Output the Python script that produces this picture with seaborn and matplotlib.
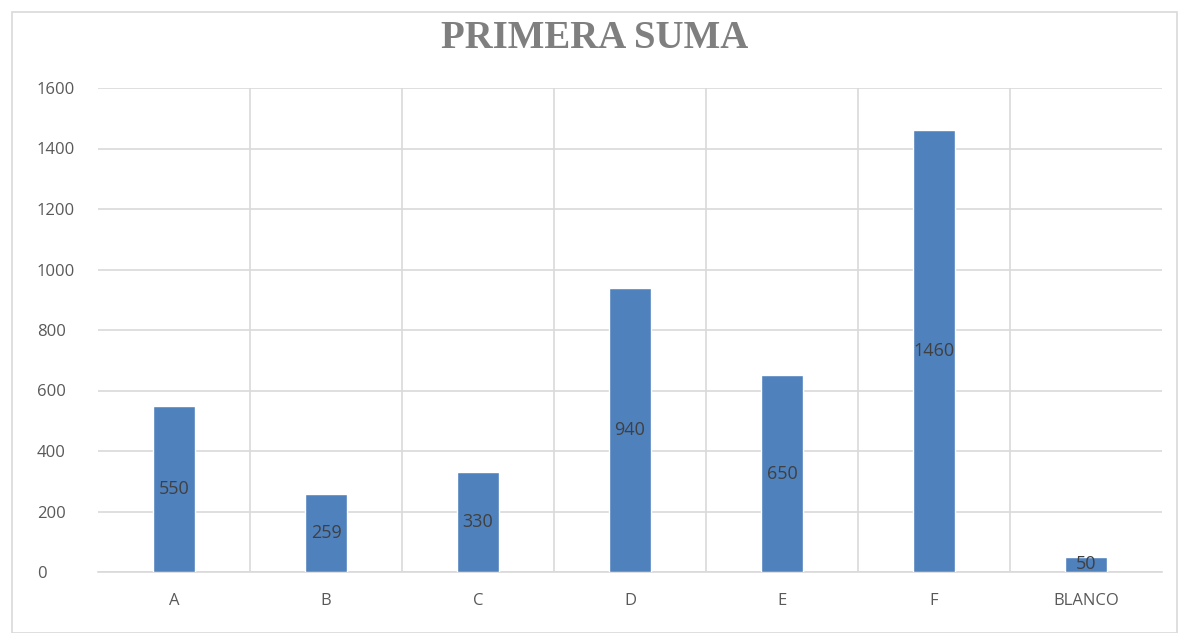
import matplotlib
matplotlib.use("Agg")
import matplotlib.pyplot as plt
import seaborn as sns
import pandas as pd
import numpy as np
from matplotlib.patches import Rectangle

categories = ["A", "B", "C", "D", "E", "F", "BLANCO"]
values = [550, 259, 330, 940, 650, 1460, 50]
title = "PRIMERA SUMA"

sns.set_theme(style="white")
plt.rcParams['font.family'] = ['Open Sans', 'DejaVu Sans']

df = pd.DataFrame({"cat": categories, "val": values})

fig = plt.figure(figsize=(11.9, 6.33), dpi=100)
ax = fig.add_axes([98/1190, 61/633, (1162-98)/1190, (572-88)/633])

sns.barplot(data=df, x="cat", y="val", color="#4F81BD", saturation=1, width=0.28, ax=ax, zorder=3)

ax.set_ylim(0, 1600)
ax.set_xlim(-0.5, len(categories) - 0.5)
ax.set_yticks(np.arange(0, 1601, 200))
ax.set_xticks(np.arange(len(categories) - 1) + 0.5, minor=True)
ax.grid(axis="y", which="major", color="#D9D9D9", linewidth=1.2, zorder=0)
ax.grid(axis="x", which="minor", color="#D9D9D9", linewidth=1.2, zorder=0)
ax.grid(axis="x", which="major", visible=False)
ax.set_xlabel("")
ax.set_ylabel("")
for s in ["top", "right", "left"]:
    ax.spines[s].set_visible(False)
ax.spines["bottom"].set_color("#D9D9D9")
ax.spines["bottom"].set_linewidth(1.2)
ax.tick_params(axis="both", which="both", length=0, labelsize=12, colors="#595959")
for lbl in ax.get_yticklabels():
    lbl.set_horizontalalignment("left")
ax.tick_params(axis="y", pad=44)
ax.tick_params(axis="x", pad=15)

for i, v in enumerate(values):
    ax.text(i, v / 2, str(v), ha="center", va="center", fontsize=13, color="#404040", zorder=4)

fig.text(0.5, 1 - 38/633, title, ha="center", va="center", fontsize=28,
         fontweight="bold", color="#7F7F7F", family=["Liberation Serif", "DejaVu Serif"])

fig.patches.append(Rectangle((12/1190, 0), (1177-12)/1190, 1 - 12/633, transform=fig.transFigure,
                             fill=False, edgecolor="#D9D9D9", linewidth=1.2))

fig.savefig("out.png", dpi=100)
